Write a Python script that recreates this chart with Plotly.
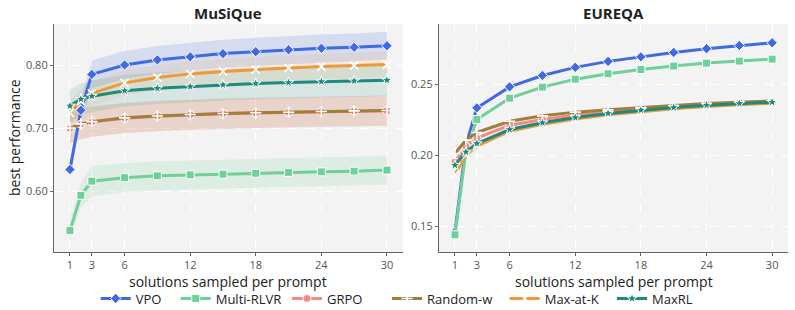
import plotly.graph_objects as go

# ---------------- data ----------------
K = [1, 2, 3, 6, 9, 12, 15, 18, 21, 24, 27, 30]
tick_k = [1, 3, 6, 12, 18, 24, 30]
series_names = ["VPO", "Multi-RLVR", "GRPO", "Random-w", "Max-at-K", "MaxRL"]

# MuSiQue (left panel)
musique_vpo = [0.635, 0.729, 0.786, 0.801, 0.809, 0.814, 0.819, 0.822, 0.825, 0.8275, 0.829, 0.8315]
musique_multi = [0.538, 0.594, 0.6165, 0.622, 0.625, 0.6265, 0.6276, 0.629, 0.6305, 0.6313, 0.6324, 0.634]
musique_grpo = [0.700, 0.707, 0.7105, 0.7165, 0.7195, 0.7218, 0.7235, 0.7247, 0.7258, 0.7268, 0.7278, 0.7284]
musique_randw = [0.7006, 0.7075, 0.711, 0.717, 0.720, 0.7222, 0.7238, 0.725, 0.726, 0.727, 0.728, 0.7286]
musique_maxk = [0.7248, 0.743, 0.756, 0.7725, 0.781, 0.7868, 0.7905, 0.7937, 0.7963, 0.7984, 0.800, 0.8016]
musique_maxrl = [0.736, 0.7467, 0.7514, 0.760, 0.764, 0.7667, 0.7694, 0.7714, 0.773, 0.7746, 0.7757, 0.7768]

# MuSiQue band half-widths
musique_vpo_hw = [0.012, 0.018, 0.022, 0.022, 0.022, 0.022, 0.022, 0.022, 0.022, 0.022, 0.022, 0.022]
musique_multi_hw = [0.015, 0.02, 0.024, 0.023, 0.023, 0.023, 0.023, 0.023, 0.023, 0.023, 0.023, 0.023]
musique_grpo_hw = [0.024, 0.024, 0.024, 0.024, 0.024, 0.024, 0.024, 0.024, 0.024, 0.024, 0.024, 0.024]
musique_randw_hw = [0.024, 0.024, 0.024, 0.024, 0.024, 0.024, 0.024, 0.024, 0.024, 0.024, 0.024, 0.024]
musique_maxk_hw = [0.02, 0.02, 0.02, 0.02, 0.02, 0.02, 0.02, 0.02, 0.02, 0.02, 0.02, 0.02]
musique_maxrl_hw = [0.026, 0.025, 0.025, 0.025, 0.025, 0.025, 0.025, 0.025, 0.025, 0.025, 0.025, 0.025]

# EUREQA (right panel)
eureqa_vpo = [0.146, 0.207, 0.2333, 0.2481, 0.2561, 0.2618, 0.266, 0.2692, 0.2723, 0.2749, 0.2772, 0.2791]
eureqa_multi = [0.144, 0.203, 0.2251, 0.2401, 0.2479, 0.2535, 0.2573, 0.2603, 0.2627, 0.2648, 0.2662, 0.2676]
eureqa_grpo = [0.1953, 0.2063, 0.212, 0.2211, 0.2251, 0.2282, 0.2305, 0.2326, 0.234, 0.2357, 0.2366, 0.2373]
eureqa_randw = [0.2012, 0.2106, 0.216, 0.2239, 0.2277, 0.2303, 0.2319, 0.2336, 0.235, 0.2364, 0.2373, 0.2382]
eureqa_maxk = [0.1864, 0.200, 0.2063, 0.2168, 0.2218, 0.2255, 0.2284, 0.2307, 0.2327, 0.2343, 0.2356, 0.2366]
eureqa_maxrl = [0.193, 0.2023, 0.2082, 0.2181, 0.2228, 0.2265, 0.2294, 0.2317, 0.2336, 0.2352, 0.2364, 0.2373]

# ---------------- style ----------------
colors = ["#4169e1", "#6fd09a", "#f28a86", "#a27d3c", "#ee9a3a", "#1e8a7c"]
band_rgba = ["rgba(65,105,225,0.17)", "rgba(111,208,154,0.17)", "rgba(242,138,134,0.17)",
             "rgba(162,125,60,0.12)", "rgba(238,154,58,0.12)", "rgba(30,138,124,0.13)"]
symbols = ["diamond", "square", "circle", "cross-thin", "x-thin", "star"]
# pixel x where each legend label's text starts in the reference
legend_text_px = [136.7, 216.7, 328, 428, 545.7, 653]

musique = [musique_vpo, musique_multi, musique_grpo, musique_randw, musique_maxk, musique_maxrl]
musique_hw = [musique_vpo_hw, musique_multi_hw, musique_grpo_hw, musique_randw_hw, musique_maxk_hw, musique_maxrl_hw]
eureqa = [eureqa_vpo, eureqa_multi, eureqa_grpo, eureqa_randw, eureqa_maxk, eureqa_maxrl]

FONT = "Open Sans"
W, H = 795, 310
ml, mr, mt, mb = 54, 7, 24, 58
pw = W - ml - mr
ph = H - mt - mb
d1 = [0, (402.8 - ml) / pw]
d2 = [(439 - ml) / pw, 1]

fig = go.Figure()

# bands (left panel)
for i, name in enumerate(series_names):
    up = [v + h for v, h in zip(musique[i], musique_hw[i])]
    lo = [v - h for v, h in zip(musique[i], musique_hw[i])]
    fig.add_trace(go.Scatter(
        x=K + K[::-1], y=up + lo[::-1], fill="toself", fillcolor=band_rgba[i],
        line=dict(width=0), mode="lines", hoverinfo="skip", showlegend=False,
        xaxis="x", yaxis="y"))


def marker_for(i):
    if symbols[i] in ("cross-thin", "x-thin"):
        return dict(symbol=symbols[i], size=8, color="white", line=dict(color="white", width=1.6))
    return dict(symbol=symbols[i], size=8, color=colors[i], line=dict(color="white", width=1))


legend_ids = ["legend"] + ["legend%d" % (j + 1) for j in range(1, len(series_names))]

for i, name in enumerate(series_names):
    fig.add_trace(go.Scatter(
        x=K, y=musique[i], mode="lines+markers", name=name, legendgroup=name, legend=legend_ids[i],
        line=dict(color=colors[i], width=3), marker=marker_for(i),
        xaxis="x", yaxis="y"))
for i, name in enumerate(series_names):
    fig.add_trace(go.Scatter(
        x=K, y=eureqa[i], mode="lines+markers", name=name, legendgroup=name, showlegend=False,
        line=dict(color=colors[i], width=3), marker=marker_for(i),
        xaxis="x2", yaxis="y2"))

axis_common = dict(
    showline=True, linecolor="#666666", linewidth=1.2, mirror=False,
    ticks="outside", ticklen=3, tickcolor="#666666",
    showgrid=True, gridcolor="white", griddash="dash", gridwidth=1,
    zeroline=False, tickfont=dict(family=FONT, size=11, color="#555555"),
)
xr = [-0.46, 31.45]
layout = dict(
    width=W, height=H,
    margin=dict(l=ml, r=mr, t=mt, b=mb, autoexpand=False),
    paper_bgcolor="white", plot_bgcolor="#f3f3f3",
    font=dict(family=FONT, color="#333333"),
    xaxis=dict(domain=d1, range=xr, tickvals=tick_k, anchor="y", **axis_common),
    yaxis=dict(domain=[0, 1], range=[0.504, 0.866], tickvals=[0.6, 0.7, 0.8], tickformat=".2f",
               anchor="x", **axis_common),
    xaxis2=dict(domain=d2, range=xr, tickvals=tick_k, anchor="y2", **axis_common),
    yaxis2=dict(domain=[0, 1], range=[0.1319, 0.2923], tickvals=[0.15, 0.20, 0.25], tickformat=".2f",
                anchor="x2", **axis_common),
    showlegend=True,
)
for i, lid in enumerate(legend_ids):
    layout[lid] = dict(orientation="h", x=(legend_text_px[i] - 41 - ml) / pw, xanchor="left",
                       y=-(298.5 - 252) / ph, yanchor="middle",
                       font=dict(family=FONT, size=13, color="#222222"), bgcolor="rgba(0,0,0,0)",
                       itemwidth=30, borderwidth=0)
fig.update_layout(**layout)

ann = []
for dom, title in [(d1, "MuSiQue"), (d2, "EUREQA")]:
    cx = (dom[0] + dom[1]) / 2
    ann.append(dict(text="<b>" + title + "</b>", x=cx, y=(H - 13 - mb) / ph, xref="paper", yref="paper",
                    showarrow=False, xanchor="center", yanchor="middle",
                    font=dict(family=FONT, size=15, color="#222222")))
    ann.append(dict(text="solutions sampled per prompt", x=cx, y=-(281 - 252) / ph, xref="paper", yref="paper",
                    showarrow=False, xanchor="center", yanchor="middle",
                    font=dict(family=FONT, size=14, color="#222222")))
ann.append(dict(text="best performance", x=(14 - ml) / pw, y=(H - 138 - mb) / ph, xref="paper", yref="paper",
                showarrow=False, xanchor="center", yanchor="middle", textangle=-90,
                font=dict(family=FONT, size=14, color="#222222")))
fig.update_layout(annotations=ann)

fig.write_html("out.html")
